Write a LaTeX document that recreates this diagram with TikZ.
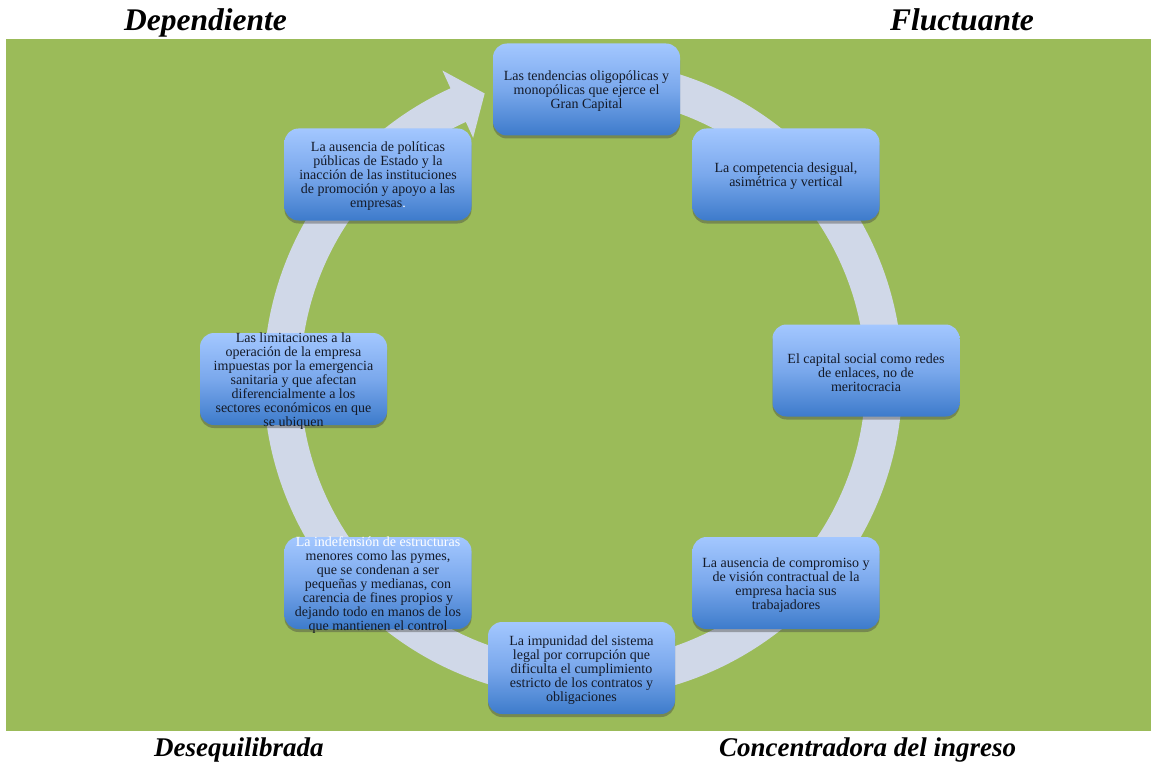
\documentclass[tikz,border=0pt]{standalone}
\usepackage{fontspec}
\setmainfont{Liberation Serif}
\usetikzlibrary{shadows}
\definecolor{bg}{HTML}{9BBB59}
\definecolor{ringc}{HTML}{D0D8E8}
\definecolor{boxtop}{HTML}{A3C7FF}
\definecolor{boxmid}{HTML}{7AA8EC}
\definecolor{boxbot}{HTML}{3D7BCB}
\definecolor{txtc}{HTML}{141A28}
\tikzset{
  cbox/.style={rounded corners=14pt, minimum width=187pt, minimum height=92pt, inner sep=0pt,
    top color=boxtop, bottom color=boxbot, middle color=boxmid,
    drop shadow={shadow xshift=0pt, shadow yshift=-3pt, opacity=0.4, fill=black!75}},
  ctext/.style={align=center, text=txtc, font=\fontsize{14}{14}\selectfont, inner sep=0pt, yshift=-2pt},
  titletop/.style={font=\fontsize{31.5}{36}\selectfont\bfseries\itshape, inner sep=0pt, anchor=base west},
  titlebot/.style={font=\fontsize{27}{32}\selectfont\bfseries\itshape, inner sep=0pt, anchor=base west},
}
\begin{document}
\begin{tikzpicture}[x=1pt,y=-1pt]
\useasboundingbox (0,0) rectangle (1153,762);
\fill[white] (0,0) rectangle (1153,762);
\fill[bg] (6,39) rectangle (1151,731);
% circular arrow
\begin{scope}[shift={(583,379)}]
\fill[ringc] (-88:319.5) arc[start angle=-88, end angle=245.5, radius=319.5]
  -- (245.5:339) -- (251:302) -- (245.5:265) -- (245.5:282.5)
  arc[start angle=245.5, end angle=-88, radius=282.5] -- cycle;
\end{scope}
% boxes
\node[cbox] (n1) at (586.5,89.5) {};
\node[cbox] (n2) at (786,174.5) {};
\node[cbox] (n3) at (866,370.5) {};
\node[cbox] (n4) at (786,583) {};
\node[cbox] (n5) at (581.5,668) {};
\node[cbox] (n6) at (378,583) {};
\node[cbox] (n7) at (293.5,379) {};
\node[cbox] (n8) at (378,174.5) {};
% texts
\node[ctext] (t1) at (n1.center) {Las tendencias oligopólicas y\\monopólicas que ejerce el\\Gran Capital};
\node[ctext] (t2) at (n2.center) {La competencia desigual,\\asimétrica y vertical};
\node[ctext] (t3) at (n3.center) {El capital social como redes\\de enlaces, no de\\meritocracia};
\node[ctext] (t4) at (n4.center) {La ausencia de compromiso y\\de visión contractual de la\\empresa hacia sus\\trabajadores};
\node[ctext] (t5) at (n5.center) {La impunidad del sistema\\legal por corrupción que\\dificulta el cumplimiento\\estricto de los contratos y\\obligaciones};
\node[ctext] (t6) at (n6.center) {{\color{white}La indefensión de estructuras}\\menores como las pymes,\\que se condenan a ser\\pequeñas y medianas, con\\carencia de fines propios y\\dejando todo en manos de los\\que mantienen el control};
\node[ctext] (t7) at (n7.center) {Las limitaciones a la\\operación de la empresa\\impuestas por la emergencia\\sanitaria y que afectan\\diferencialmente a los\\sectores económicos en que\\se ubiquen};
\node[ctext] (t8) at (n8.center) {La ausencia de políticas\\públicas de Estado y la\\inacción de las instituciones\\de promoción y apoyo a las\\empresas{\color{white}.}};
% corner titles
\node[titletop] (d1) at (124,30.5) {Dependiente};
\node[titletop] (d2) at (890,30.5) {Fluctuante};
\node[titlebot] (d3) at (154,756) {Desequilibrada};
\node[titlebot] (d4) at (719,756) {Concentradora del ingreso};
\end{tikzpicture}
\end{document}
